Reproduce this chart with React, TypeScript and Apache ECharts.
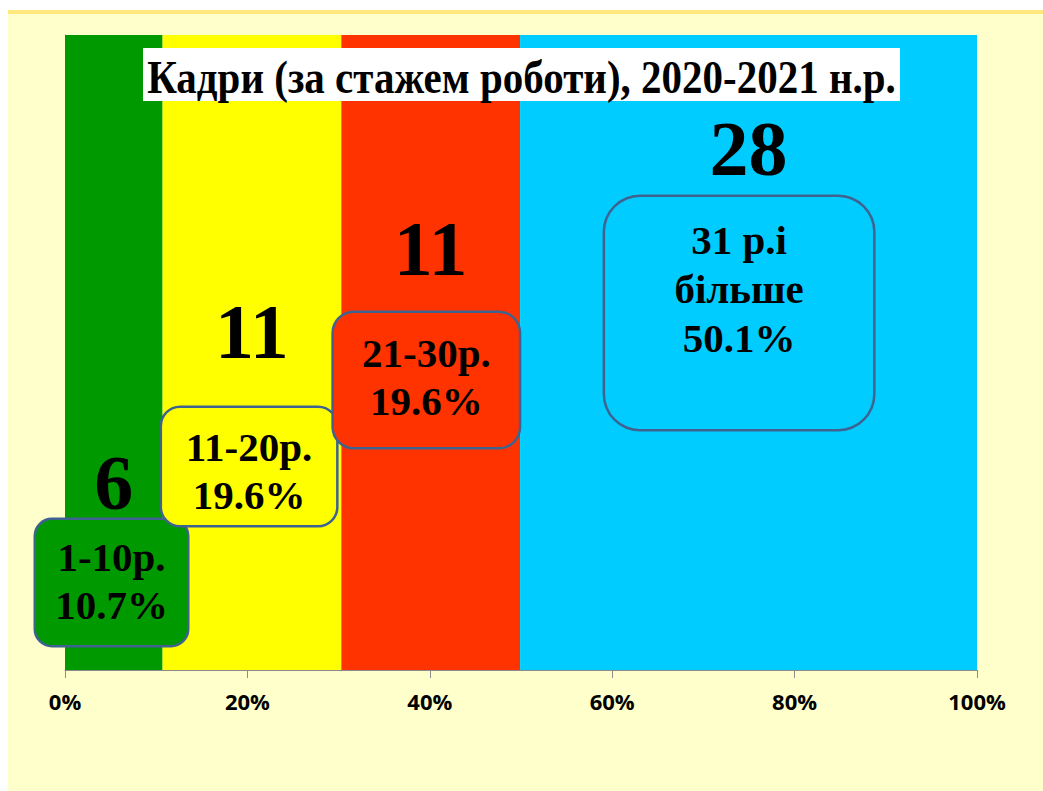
import React, { useEffect, useRef } from "react";
import * as echarts from "echarts";

const categories: string[] = ["Кадри"];
const groupNames: string[] = ["1-10р.", "11-20р.", "21-30р.", "31 р.і\nбільше"];
const percents: number[] = [10.7, 19.6, 19.6, 50.1];
const counts: number[] = [6, 11, 11, 28];
const colors: string[] = ["#009900", "#FFFF00", "#FF3300", "#00CCFF"];
const xTicks: number[] = [0, 20, 40, 60, 80, 100];
const titleText = "Кадри (за стажем роботи), 2020-2021 н.р.";

// label box layouts: [dx, dy, width, padTop, padBottom, radius, lineHeight]
const boxLayout: number[][] = [
  [46.5, 485, 151, 13, 16, 16, 48],
  [86.5, 373, 174, 15, 6, 18, 48],
  [85, 278, 185, 16, 22, 20, 48],
  [219, 162, 268, 18, 67, 35, 49],
];
const numberOffsets: number[] = [129.5, -21.5, -104.5, -204.5];

const serif = '"Liberation Serif", "Times New Roman", serif';

export default function App() {
  const ref = useRef<HTMLDivElement>(null);
  useEffect(() => {
    if (!ref.current) return;
    const chart = echarts.init(ref.current, null, { renderer: "svg" });
    let cum = 0;
    const series = percents.map((p, i) => {
      const mid = cum + p / 2;
      cum += p;
      const [dx, dy, w, pt, pb, r, lh] = boxLayout[i];
      return {
        type: "bar",
        name: groupNames[i],
        stack: "total",
        barCategoryGap: "0%",
        data: [p],
        itemStyle: { color: colors[i] },
        label: {
          show: true,
          position: [dx, dy],
          align: "center",
          verticalAlign: "top",
          formatter: () => `${groupNames[i]}\n${p.toFixed(1)}%`,
          color: "#000",
          fontFamily: serif,
          fontWeight: "bold",
          fontSize: 41,
          lineHeight: lh,
          width: w,
          backgroundColor: colors[i],
          borderColor: "#3F6390",
          borderWidth: 2.5,
          borderRadius: r,
          padding: [pt, 0, pb, 0],
        },
        markPoint: {
          silent: true,
          symbol: "circle",
          symbolSize: 1,
          itemStyle: { color: "rgba(0,0,0,0)" },
          label: {
            show: true,
            position: "inside",
            offset: [0, numberOffsets[i]],
            formatter: "{c}",
            color: "#000",
            fontFamily: serif,
            fontWeight: "bold",
            fontSize: 78,
          },
          data: [{ coord: [mid, 0], value: counts[i] }],
        },
      };
    });
    chart.setOption({
      animation: false,
      backgroundColor: "#FFFFFF",
      graphic: [
        { type: "rect", z: -10, shape: { x: 8, y: 10, width: 1035, height: 781 }, style: { fill: "#FFFFCC" } },
        { type: "rect", z: -9, shape: { x: 8, y: 10, width: 1035, height: 4 }, style: { fill: "#FFE97F" } },
        {
          type: "group",
          z: 100,
          children: [
            { type: "rect", z: 100, shape: { x: 143, y: 48, width: 757, height: 53 }, style: { fill: "#FFFFFF" } },
            {
              type: "text",
              z: 101,
              x: 521.5,
              y: 77,
              scaleY: 1.12,
              style: {
                text: titleText,
                align: "center",
                verticalAlign: "middle",
                font: `bold 41px ${serif}`,
                fill: "#000",
              },
            },
          ],
        },
      ],
      grid: { left: 65, top: 35, width: 912, height: 635, containLabel: false },
      xAxis: {
        type: "value",
        min: xTicks[0],
        max: xTicks[xTicks.length - 1],
        interval: 20,
        axisLine: { show: true, lineStyle: { color: "#8C8C8C", width: 1 } },
        axisTick: { show: true, length: 8, lineStyle: { color: "#8C8C8C" } },
        splitLine: { show: false },
        axisLabel: {
          formatter: "{value}%",
          color: "#000",
          fontFamily: '"Open Sans", sans-serif',
          fontWeight: "bold",
          fontSize: 22,
          margin: 20,
        },
      },
      yAxis: {
        type: "category",
        data: categories,
        axisLine: { show: true, lineStyle: { color: "#A0A0A0" } },
        axisTick: { show: false },
        axisLabel: { show: false },
      },
      series,
    });
    return () => chart.dispose();
  }, []);
  return (
    <div
      ref={ref}
      style={{ position: "fixed", left: 0, top: 0, width: 1043, height: 791 }}
    />
  );
}
